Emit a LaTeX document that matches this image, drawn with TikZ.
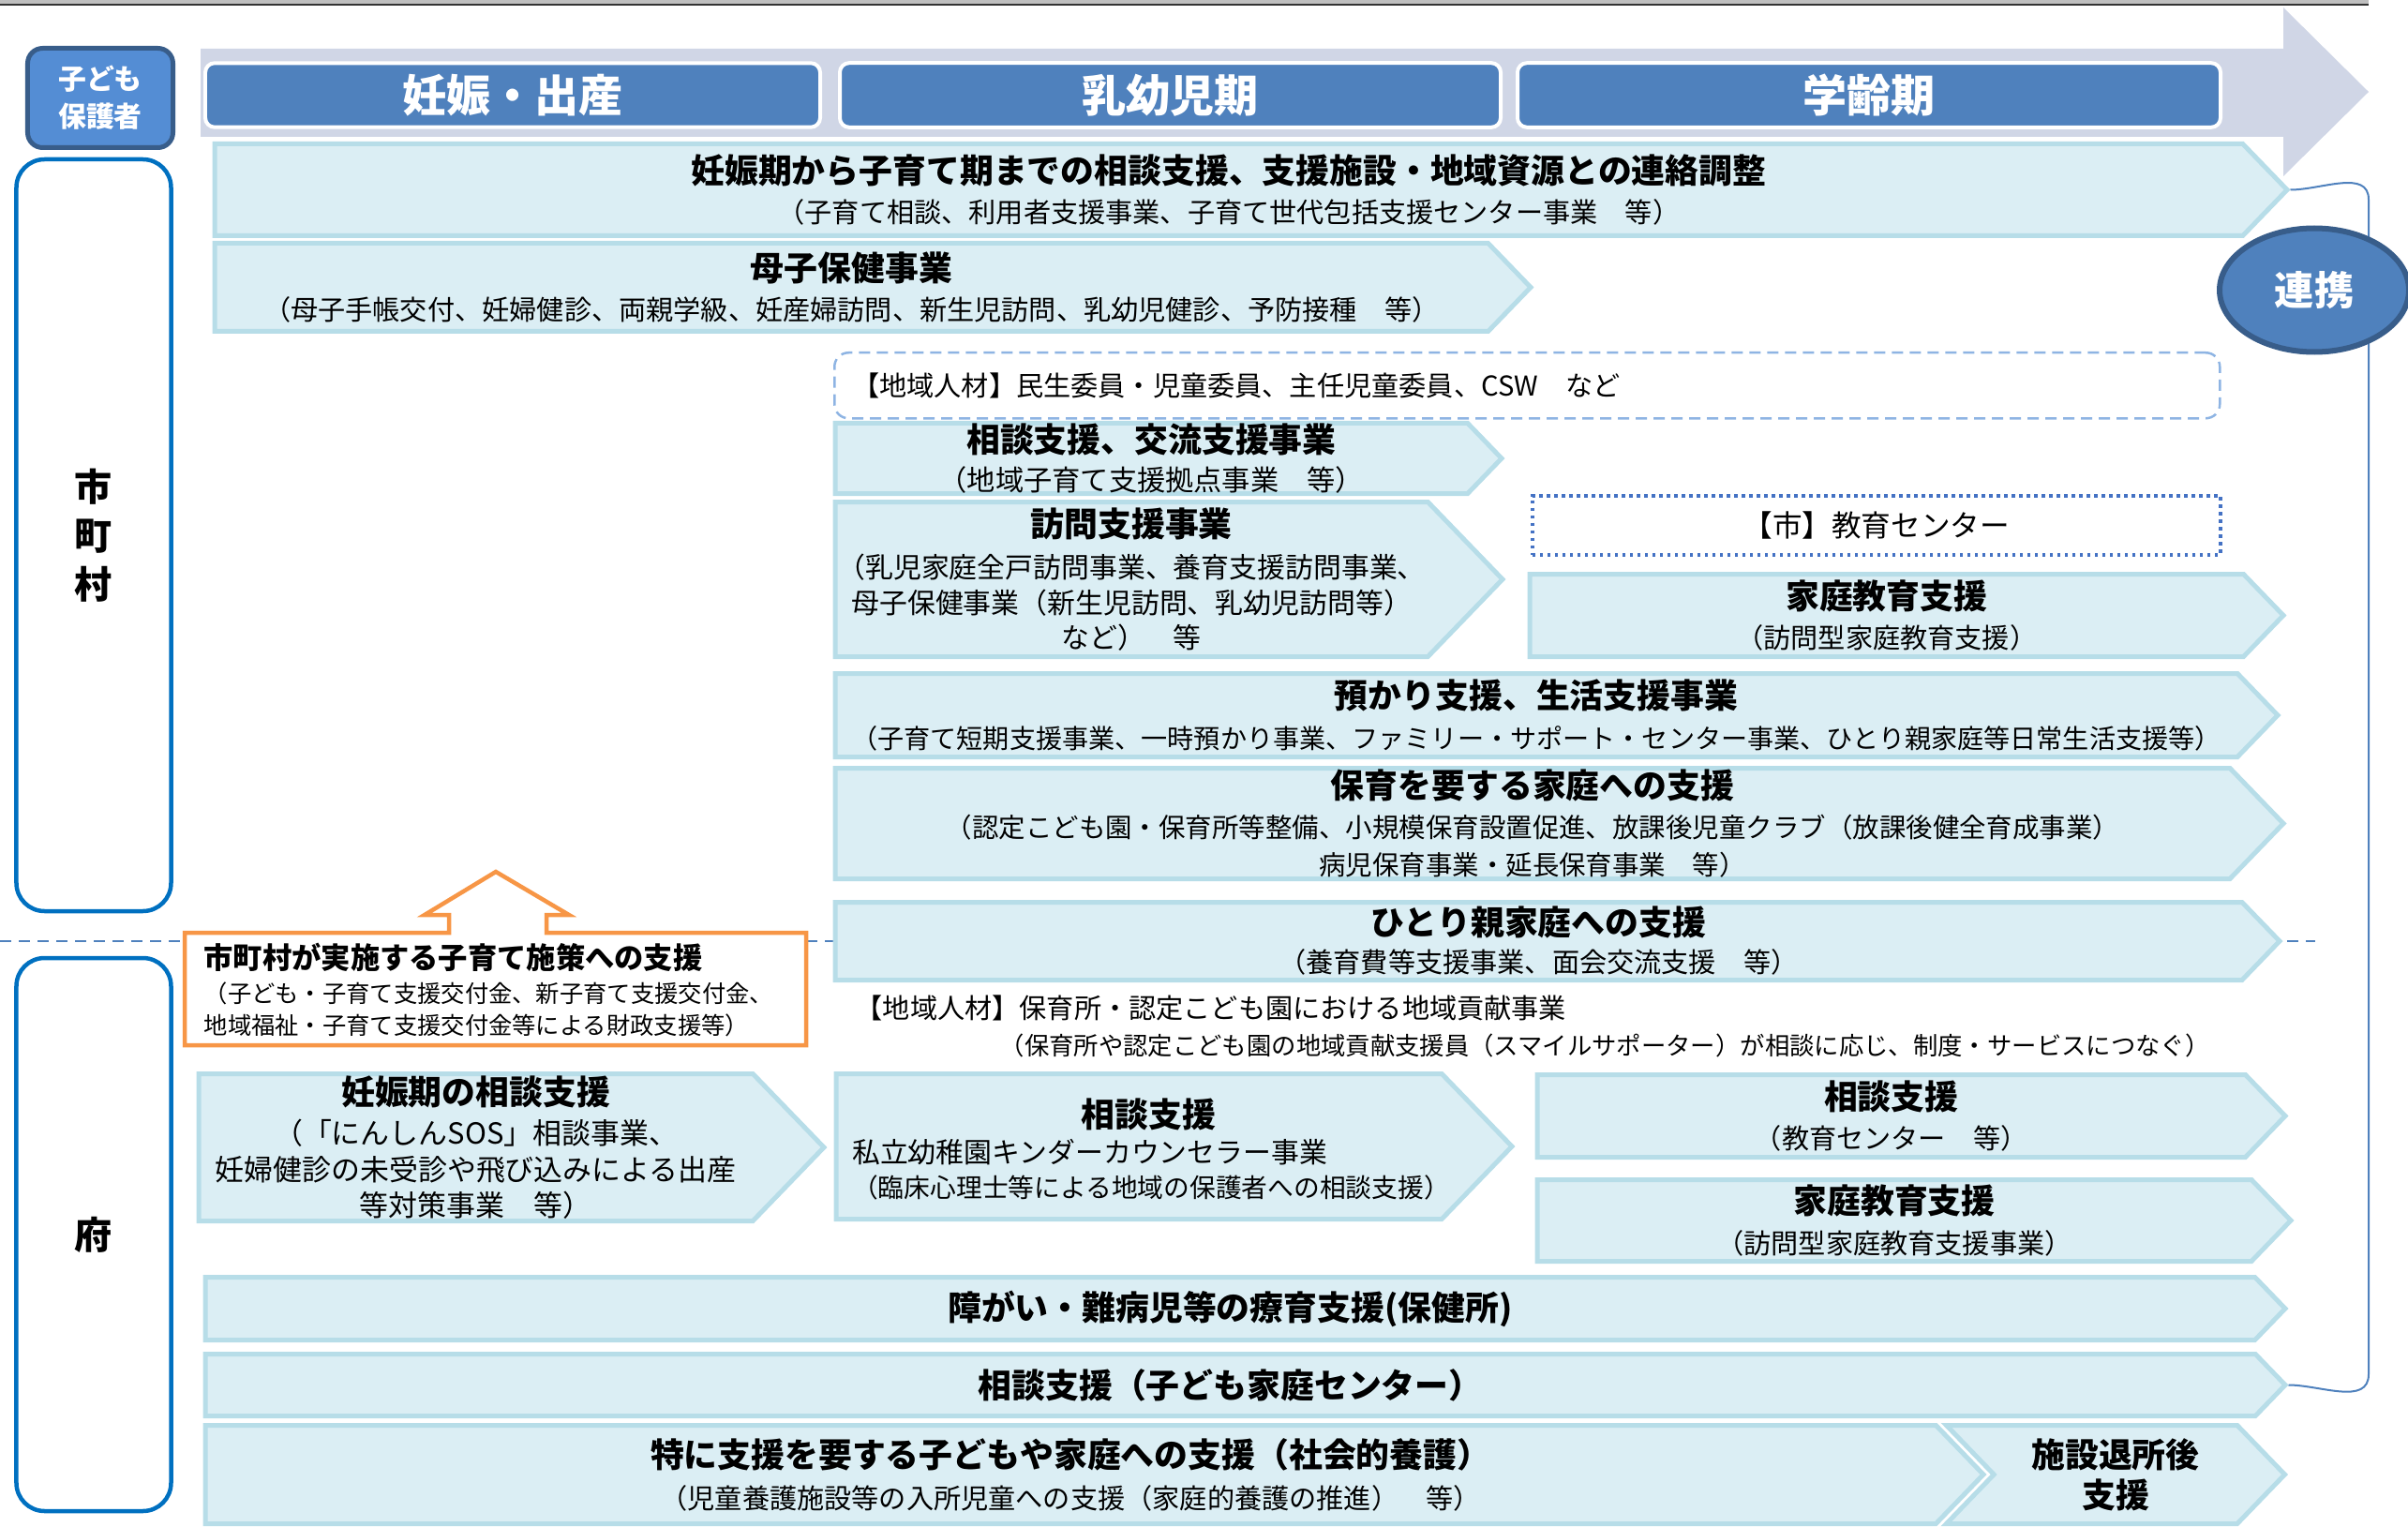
\documentclass[tikz,border=0pt]{standalone}
\usepackage{fontspec}
\setmainfont{Noto Sans CJK JP}
\usetikzlibrary{shapes.symbols,shapes.geometric}

\definecolor{boxfill}{HTML}{DBEEF4}
\definecolor{boxline}{HTML}{B7DDE8}
\definecolor{phaseblue}{HTML}{4F81BD}
\definecolor{arrowgray}{HTML}{D0D6E6}
\definecolor{topgray}{HTML}{BFBFBF}
\definecolor{sideblue}{HTML}{0070C0}
\definecolor{kidsblue}{HTML}{548DD4}
\definecolor{darkblue}{HTML}{385D8A}
\definecolor{fundorange}{HTML}{F79646}
\definecolor{dashblue}{HTML}{8EB4E3}
\definecolor{dotblue}{HTML}{4472C4}

\newcommand{\ttlfont}{\fontsize{10.2}{12.2}\selectfont\bfseries}
\newcommand{\subfont}{\fontsize{8.3}{11}\selectfont}

\tikzset{
  pbox/.style={shape=signal,signal pointer angle=92,draw=boxline,fill=boxfill,line width=0.5mm,inner sep=0pt,anchor=west,align=center,font=\subfont},
  phase/.style={draw=white,line width=0.4mm,fill=phaseblue,rounded corners=1mm,minimum height=5.7mm,text=white,font=\fontsize{13.4}{14}\selectfont\bfseries},
  side/.style={draw=sideblue,line width=0.45mm,rounded corners=3mm,minimum width=16.5mm,align=center,font=\fontsize{11.4}{14.8}\selectfont\bfseries},
  kidsbox/.style={draw=darkblue,line width=0.5mm,fill=kidsblue,rounded corners=1.6mm,minimum width=15.5mm,minimum height=10.6mm,align=center,text=white,font=\fontsize{8.5}{11.4}\selectfont\bfseries},
  memberbox/.style={draw=dashblue,line width=0.25mm,dash pattern=on 1.2mm off 0.7mm,rounded corners=1.5mm,inner xsep=1.9mm,align=left,font=\subfont},
  centerbox/.style={draw=dotblue,line width=0.35mm,dash pattern=on 0.35mm off 0.45mm,font=\fontsize{9}{10}\selectfont},
  linkline/.style={phaseblue,line width=0.2mm}
}

\begin{document}
\begin{tikzpicture}[x=1mm,y=-1mm]
\useasboundingbox (0,0) rectangle (256.9,162.9);

% top edge
\fill[topgray] (0,0) rectangle (252.7,0.4);
\draw[black!80,line width=0.2mm] (0,0.5) -- (252.7,0.5);

% time line
\fill[arrowgray] (21.4,5.2) -- (243.6,5.2) -- (243.6,0.8) -- (252.7,9.8) -- (243.6,18.8) -- (243.6,14.6) -- (21.4,14.6) -- cycle;

% city / prefecture border
\draw[phaseblue,line width=0.25mm,dash pattern=on 1.2mm off 0.8mm] (0,100.4) -- (247,100.4);

\node[phase,minimum width=65.6mm] (preg) at (54.7,10.15) {妊娠・出産};
\node[phase,minimum width=70.5mm] (infant) at (124.85,10.15) {乳幼児期};
\node[phase,minimum width=75mm] (school) at (199.4,10.15) {学齢期};

\node[kidsbox] (kids) at (10.7,10.45) {子ども\\保護者};
\node[side,minimum height=80.2mm] (city) at (10,57.1) {市\\町\\村};
\node[side,minimum height=59mm] (pref) at (10,131.7) {府};

% city programmes
\node[pbox,minimum width=221.1mm,minimum height=9.8mm] (plan) at (22.65,20.25) {{\ttlfont 妊娠期から子育て期までの相談支援、支援施設・地域資源との連絡調整}\\[1.1pt]（子育て相談、利用者支援事業、子育て世代包括支援センター事業　等）};

\node[pbox,minimum width=140.4mm,minimum height=9.4mm] (boshi) at (22.65,30.65) {{\ttlfont 母子保健事業}\\[1.1pt]（母子手帳交付、妊婦健診、両親学級、妊産婦訪問、新生児訪問、乳幼児健診、予防接種　等）};

\node[memberbox,minimum width=147.8mm,minimum height=7mm,text width=144mm,anchor=north west] (members) at (88.9,37.5) {【地域人材】民生委員・児童委員、主任児童委員、CSW　など};

\node[pbox,minimum width=71.1mm,minimum height=7.5mm,font=\fontsize{8.6}{11}\selectfont] (salon) at (88.85,48.9) {{\ttlfont 相談支援、交流支援事業}\\[0.5pt]（地域子育て支援拠点事業　等）};

\node[pbox,minimum width=71.2mm,minimum height=16.5mm,font=\fontsize{8.5}{10.6}\selectfont] (visit) at (88.85,61.8) {{\ttlfont 訪問支援事業}\\[2pt]（乳児家庭全戸訪問事業、養育支援訪問事業、\\母子保健事業（新生児訪問、乳幼児訪問等）\\など）　等};

\node[centerbox,minimum width=73.4mm,minimum height=6.3mm,anchor=north west] (educenter) at (163.3,52.7) {【市】教育センター};

\node[pbox,minimum width=80.4mm,minimum height=8.8mm] (homeedu) at (162.95,65.65) {{\ttlfont 家庭教育支援}\\[1.1pt]（訪問型家庭教育支援）};

\node[pbox,minimum width=153.9mm,minimum height=8.9mm,font=\fontsize{8}{11}\selectfont] (care) at (88.85,76.3) {{\ttlfont 預かり支援、生活支援事業}\\[1.5pt]（子育て短期支援事業、一時預かり事業、ファミリー・サポート・センター事業、ひとり親家庭等日常生活支援等）};

\node[pbox,minimum width=154.5mm,minimum height=11.8mm,font=\fontsize{8.1}{11.4}\selectfont] (nursery) at (88.85,87.85) {{\ttlfont 保育を要する家庭への支援}\\[0.6pt]（認定こども園・保育所等整備、小規模保育設置促進、放課後児童クラブ（放課後健全育成事業）\\病児保育事業・延長保育事業　等）};

\node[pbox,minimum width=154.1mm,minimum height=8.3mm] (single) at (88.85,100.4) {{\ttlfont ひとり親家庭への支援}\\[0.4pt]（養育費等支援事業、面会交流支援　等）};

\node[anchor=west,inner sep=0pt,font=\subfont] (smile) at (91.2,107.5) {【地域人材】保育所・認定こども園における地域貢献事業};
\node[anchor=west,inner sep=0pt,font=\fontsize{7.5}{9}\selectfont] (smilenote) at (106.6,111.5) {（保育所や認定こども園の地域貢献支援員（スマイルサポーター）が相談に応じ、制度・サービスにつなぐ）};

% prefecture support for cities
\draw[fundorange,line width=0.45mm,fill=white] (19.7,99.5) -- (47.9,99.5) -- (47.9,97.6) -- (45.3,97.6) -- (52.9,93) -- (60.7,97.6) -- (58.3,97.6) -- (58.3,99.5) -- (86,99.5) -- (86,111.5) -- (19.7,111.5) -- cycle;
\node[anchor=west,align=left,inner sep=0pt,font=\fontsize{7.2}{9.7}\selectfont] (fund) at (21.7,105.6) {{\fontsize{8.9}{9.7}\selectfont\bfseries 市町村が実施する子育て施策への支援}\\[0.3pt]（子ども・子育て支援交付金、新子育て支援交付金、\\地域福祉・子育て支援交付金等による財政支援等）};

% prefecture programmes
\node[pbox,minimum width=66.7mm,minimum height=15.7mm,font=\fontsize{8.8}{10.9}\selectfont] (prenatal) at (20.95,122.4) {{\ttlfont 妊娠期の相談支援}\\[1.3pt]（「にんしんSOS」相談事業、\\妊婦健診の未受診や飛び込みによる出産\\等対策事業　等）};

\node[pbox,minimum width=72.1mm,minimum height=15.5mm] (kinder) at (88.95,122.3) {};
\node[anchor=west,align=left,text width=63.2mm,inner sep=0pt,font=\fontsize{8.5}{10.6}\selectfont] (kindertext) at (90.85,122.6) {\makebox[63.2mm]{\ttlfont 相談支援}\\[0.3pt]私立幼稚園キンダーカウンセラー事業\\{\fontsize{7.9}{10}\selectfont（臨床心理士等による地域の保護者への相談支援）}};

\node[pbox,minimum width=79.8mm,minimum height=8.8mm] (eduroom) at (163.75,119.05) {{\ttlfont 相談支援}\\[1.1pt]（教育センター　等）};
\node[pbox,minimum width=80.4mm,minimum height=8.7mm] (homevisit) at (163.75,130.2) {{\ttlfont 家庭教育支援}\\[1.1pt]（訪問型家庭教育支援事業）};

\node[pbox,minimum width=221.9mm,minimum height=6.7mm,font=\ttlfont] (therapy) at (21.65,139.6) {障がい・難病児等の療育支援(保健所)};
\node[pbox,minimum width=221.9mm,minimum height=6.6mm,font=\ttlfont] (kodomo) at (21.65,147.75) {相談支援（子ども家庭センター）};
\node[pbox,minimum width=189.7mm,minimum height=10.5mm] (foster) at (21.65,157.3) {{\ttlfont 特に支援を要する子どもや家庭への支援（社会的養護）}\\[1.5pt]（児童養護施設等の入所児童への支援（家庭的養護の推進）　等）};
\node[pbox,signal from=west,anchor=center,minimum width=36.1mm,minimum height=10.5mm,font=\ttlfont] (aftercare) at (225.7,157.3) {施設退所後\\支援};

% cooperation bracket
\draw[linkline] (plan.east) to[out=0,in=90] (252.7,21.3) -- (252.7,146.6) to[out=-90,in=0] (kodomo.east);
\node[ellipse,fill=phaseblue,draw=darkblue,line width=0.6mm,minimum width=20.2mm,minimum height=13.2mm,text=white,font=\fontsize{12}{13}\selectfont\bfseries] (link) at (246.9,30.95) {連携};

\end{tikzpicture}
\end{document}
